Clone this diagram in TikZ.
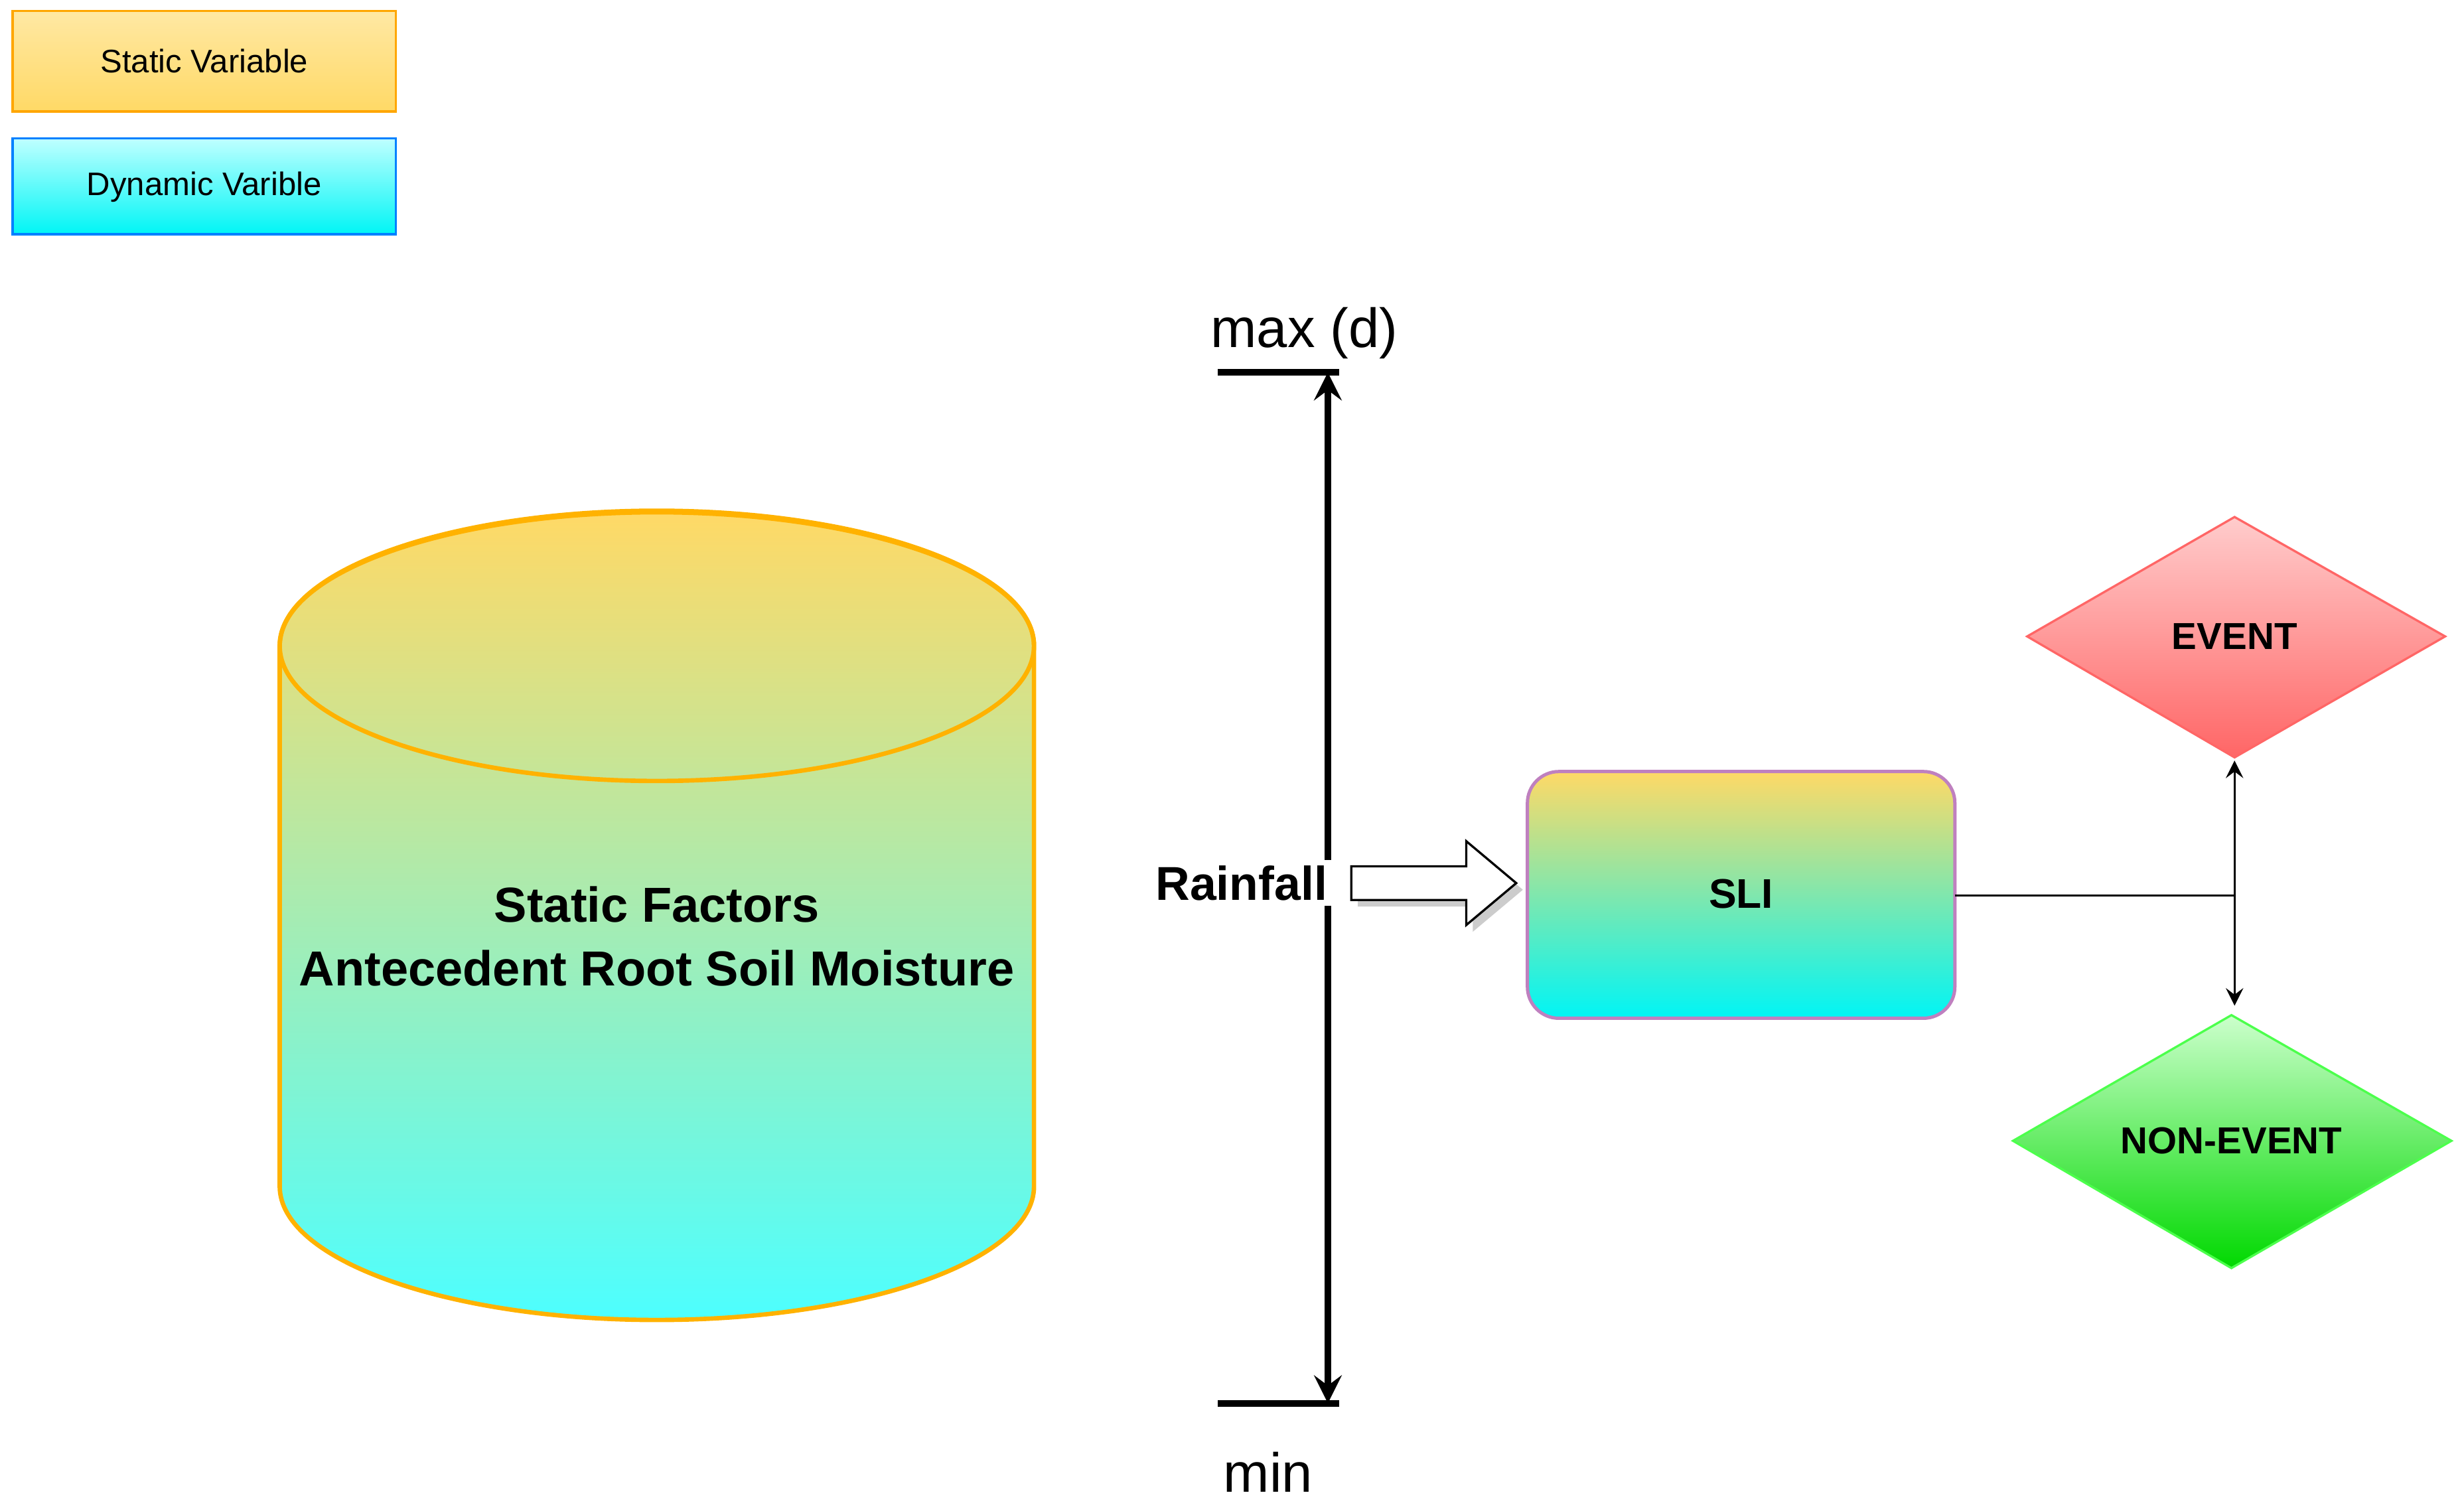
\documentclass[tikz,border=0pt]{standalone}
\usepackage{fontspec}
\setmainfont{Liberation Sans}
\usetikzlibrary{shapes.arrows,shadows}
\definecolor{sorange}{HTML}{FFD966}
\definecolor{scyan}{HTML}{00F5F5}
\begin{document}
\begin{tikzpicture}[x=0.1mm,y=-0.1mm,
  lab/.style={inner sep=1pt},
  ax/.style={line width=1.2pt}]
\useasboundingbox (0,0) rectangle (1568,960);
% legend
\path[draw=orange!70!yellow,top color=sorange!60!white,bottom color=sorange] (8,7) rectangle (252,71);
\node[lab,font=\fontsize{5.9}{7}\selectfont] (ls) at (130,39) {Static Variable};
\path[draw=blue!50!cyan,top color=cyan!25,bottom color=scyan] (8,88) rectangle (252,149);
\node[lab,font=\fontsize{5.9}{7}\selectfont] (ld) at (130,119) {Dynamic Varible};
% cylinder
\path[draw=orange!60!yellow,line width=0.8pt,top color=sorange,bottom color=cyan!70]
 (178,411) -- (178,755) arc[start angle=180,end angle=0,x radius=240,y radius=85] -- (658,411) arc[start angle=0,end angle=-180,x radius=240,y radius=85] -- cycle;
\draw[orange!60!yellow,line width=0.8pt] (418,411) ellipse[x radius=240,y radius=86];
\node[lab,align=center,font=\bfseries\fontsize{8.9}{11.5}\selectfont] (cyl) at (418,596) {Static Factors\\Antecedent Root Soil Moisture};
% axis
\coordinate (top) at (845,237);
\coordinate (bot) at (845,893);
\draw[ax] (775,237) -- (852,237);
\draw[ax] (775,893) -- (852,893);
\draw[ax,<->,>=stealth] (top) -- (bot);
\node[lab,font=\fontsize{10}{12}\selectfont] (mx) at (830,212) {max (d)};
\node[lab,font=\fontsize{10}{12}\selectfont] (mn) at (807,937) {min};
\node[lab,fill=white,font=\bfseries\fontsize{8.6}{11}\selectfont] (rain) at (790,562) {Rainfall};
\node[single arrow,draw,fill=white,drop shadow={shadow xshift=1.2pt,shadow yshift=-1.2pt,opacity=0.4},minimum height=10.5mm,inner xsep=0pt,inner ysep=1mm,single arrow head extend=1.6mm,single arrow tip angle=80] (harr) at (906,562) {};
% SLI
\path[draw=violet!50,line width=0.6pt,rounded corners=2mm,top color=sorange,bottom color=scyan] (972,491) rectangle (1244,648);
\node[lab,font=\bfseries\fontsize{7.5}{9}\selectfont] (sli) at (1108,569) {SLI};
% diamonds
\path[draw=red!60,top color=red!20,bottom color=red!60] (1422,329) -- (1556,405) -- (1422,482) -- (1290,405) -- cycle;
\node[lab,font=\bfseries\fontsize{6.8}{8}\selectfont] (ev) at (1422,405) {EVENT};
\path[draw=green!70,top color=green!20,bottom color=green!85!black] (1420,646) -- (1560,726) -- (1420,807) -- (1281,726) -- cycle;
\node[lab,font=\bfseries\fontsize{6.8}{8}\selectfont] (nev) at (1420,726) {NON-EVENT};
\coordinate (j) at (1422,570);
\coordinate (jt) at (1422,484);
\coordinate (jb) at (1422,640);
\draw (1244,570) -- (j);
\draw[->,>=stealth] (j) -- (jt);
\draw[->,>=stealth] (j) -- (jb);
\end{tikzpicture}
\end{document}
